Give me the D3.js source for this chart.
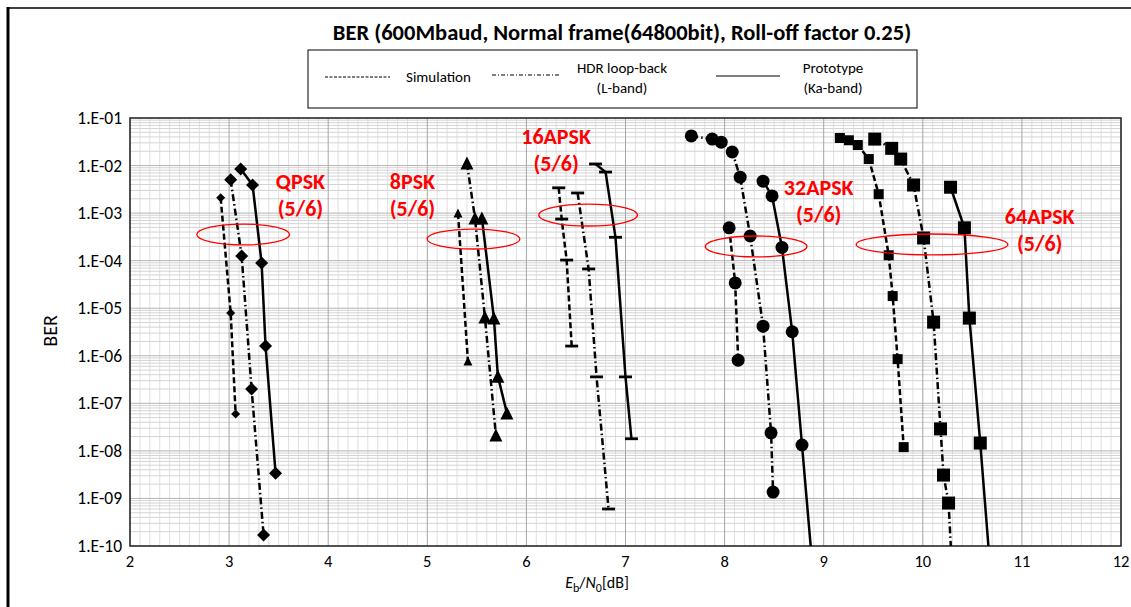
<!DOCTYPE html>
<html>
<head>
<meta charset="utf-8">
<script src="https://cdn.jsdelivr.net/npm/d3@7"></script>
<style>
  html, body { margin: 0; padding: 0; background: #fff; }
  svg { display: block; font-family: Carlito, Lato, sans-serif; }
</style>
</head>
<body>
<svg id="chart" width="1131" height="607"></svg>
<script>
'use strict';

const xTicks = [2, 3, 4, 5, 6, 7, 8, 9, 10, 11, 12];
const yTicks = [1e-1, 1e-2, 1e-3, 1e-4, 1e-5, 1e-6, 1e-7, 1e-8, 1e-9, 1e-10];
const yTickLabels = ['1.E-01', '1.E-02', '1.E-03', '1.E-04', '1.E-05', '1.E-06', '1.E-07', '1.E-08', '1.E-09', '1.E-10'];

const legendNames = [['Simulation'], ['HDR loop-back', '(L-band)'], ['Prototype', '(Ka-band)']];
const modNames = ['QPSK', '8PSK', '16APSK', '32APSK', '64APSK'];

// [Eb/N0 dB, BER]
const qpskSim = [[2.915, 2.1e-3], [3.016, 7.9e-6], [3.066, 6.0e-8]];
const qpskHdr = [[3.016, 5.0e-3], [3.127, 1.25e-4], [3.227, 2.0e-7], [3.348, 1.7e-10]];
const qpskProto = [[3.117, 8.5e-3], [3.237, 3.9e-3], [3.328, 8.9e-5], [3.368, 1.6e-6], [3.469, 3.4e-9]];

const psk8Sim = [[5.31, 1.0e-3], [5.41, 7.8e-7]];
const psk8Hdr = [[5.40, 1.13e-2], [5.481, 7.9e-4], [5.581, 6.5e-6], [5.692, 2.15e-8]];
const psk8Proto = [[5.551, 7.9e-4], [5.672, 6.2e-6], [5.712, 3.7e-7], [5.803, 6.3e-8]];

const apsk16Sim = [[6.326, 3.4e-3], [6.356, 7.5e-4], [6.406, 1.03e-4], [6.457, 1.6e-6]];
const apsk16Hdr = [[6.517, 2.65e-3], [6.628, 6.7e-5], [6.708, 3.6e-7], [6.829, 6.0e-10]];
const apsk16Proto = [[6.698, 1.08e-2], [6.799, 7.3e-3], [6.899, 3.1e-4], [7.0, 3.6e-7], [7.06, 1.8e-8]];

const apsk32Sim = [[8.046, 4.9e-4], [8.107, 3.4e-5], [8.137, 8.1e-7]];
const apsk32Hdr = [[7.664, 4.2e-2], [7.875, 3.6e-2], [7.966, 3.1e-2], [8.077, 1.93e-2], [8.157, 5.7e-3],
  [8.258, 3.3e-4], [8.388, 4.2e-6], [8.469, 2.4e-8], [8.489, 1.36e-9]];
const apsk32Proto = [[8.388, 4.7e-3], [8.479, 2.3e-3], [8.579, 1.9e-4], [8.682, 3.2e-6], [8.781, 1.33e-8], [8.91, 1e-11]];

const apsk64Sim = [[9.163, 3.8e-2], [9.254, 3.4e-2], [9.344, 2.7e-2], [9.455, 1.37e-2], [9.555, 2.5e-3],
  [9.656, 1.3e-4], [9.696, 1.8e-5], [9.746, 8.5e-7], [9.807, 1.2e-8]];
const apsk64Hdr = [[9.515, 3.6e-2], [9.686, 2.3e-2], [9.777, 1.37e-2], [9.907, 3.9e-3], [10.008, 3.0e-4],
  [10.109, 5.1e-6], [10.179, 2.9e-8], [10.209, 3.1e-9], [10.26, 8.0e-10], [10.29, 5e-11]];
const apsk64Proto = [[10.28, 3.5e-3], [10.42, 4.9e-4], [10.47, 6.2e-6], [10.58, 1.46e-8], [10.70, 1e-11]];

// annotation anchors in data units: label centre, ellipse centre + half widths (dB, decades)
const labelAnchors = [[3.72, 4.7e-3], [4.85, 4.7e-3], [6.30, 4.2e-2], [8.95, 3.5e-3], [11.18, 8.7e-4]];
const ellipseAnchors = [[3.142, 3.55e-4, 0.468, 0.22], [5.466, 2.85e-4, 0.468, 0.21], [6.623, 9.1e-4, 0.498, 0.23],
  [8.318, 1.99e-4, 0.513, 0.22], [10.093, 2.19e-4, 0.765, 0.22]];

const series = [
  { data: qpskSim, kind: 0, shape: 'diamond', size: 9 },
  { data: qpskHdr, kind: 1, shape: 'diamond', size: 13 },
  { data: qpskProto, kind: 2, shape: 'diamond', size: 13 },
  { data: psk8Sim, kind: 0, shape: 'triangle', size: 9 },
  { data: psk8Hdr, kind: 1, shape: 'triangle', size: 13 },
  { data: psk8Proto, kind: 2, shape: 'triangle', size: 13 },
  { data: apsk16Sim, kind: 0, shape: 'dash', size: 13 },
  { data: apsk16Hdr, kind: 1, shape: 'dash', size: 13 },
  { data: apsk16Proto, kind: 2, shape: 'dash', size: 13 },
  { data: apsk32Sim, kind: 0, shape: 'circle', size: 13 },
  { data: apsk32Hdr, kind: 1, shape: 'circle', size: 13 },
  { data: apsk32Proto, kind: 2, shape: 'circle', size: 13 },
  { data: apsk64Sim, kind: 0, shape: 'square', size: 10 },
  { data: apsk64Hdr, kind: 1, shape: 'square', size: 13 },
  { data: apsk64Proto, kind: 2, shape: 'square', size: 13 },
];

const dashes = ['6,3', '7,3,1.5,3', null];

const plot = { left: 130, right: 1121, top: 118, bottom: 546 };

const svg = d3.select('#chart');
const x = d3.scaleLinear().domain([2, 12]).range([plot.left, plot.right]);
const y = d3.scaleLog().domain([1e-1, 1e-10]).range([plot.top, plot.bottom]);

function markerPath(shape, s) {
  const h = s / 2;
  switch (shape) {
    case 'diamond': return `M0,${-h}L${h},0L0,${h}L${-h},0Z`;
    case 'triangle': return `M0,${-h}L${h},${h}L${-h},${h}Z`;
    case 'dash': return `M${-h},-1.4H${h}V1.4H${-h}Z`;
    case 'circle': return d3.symbol(d3.symbolCircle, Math.PI * h * h)();
    case 'square': return `M${-h},${-h}H${h}V${h}H${-h}Z`;
  }
}

// outer chart frame (only left and top edges are visible)
svg.append('line').attr('x1', 8).attr('x2', 1131).attr('y1', 8).attr('y2', 8)
  .attr('stroke', '#404040').attr('stroke-width', 2);
svg.append('line').attr('x1', 8).attr('x2', 8).attr('y1', 7).attr('y2', 607)
  .attr('stroke', '#000').attr('stroke-width', 3);

// title
svg.append('text')
  .attr('x', 622).attr('y', 40)
  .attr('text-anchor', 'middle')
  .attr('font-size', 22.5).attr('font-weight', 'bold')
  .text('BER (600Mbaud, Normal frame(64800bit), Roll-off factor 0.25)');

// legend
const legend = svg.append('g');
legend.append('rect').attr('x', 308).attr('y', 50).attr('width', 609).attr('height', 58)
  .attr('fill', '#fff').attr('stroke', '#000').attr('stroke-width', 1);
const legendSample = [[325, 390, 77], [492, 560, 75], [716, 780, 76]];
const legendDash = ['3,1.5', '4,2,1,2', null];
const legendText = [[406, 'start'], [622, 'middle'], [833, 'middle']];
legendNames.forEach((lines, i) => {
  legend.append('line')
    .attr('x1', legendSample[i][0]).attr('x2', legendSample[i][1])
    .attr('y1', legendSample[i][2]).attr('y2', legendSample[i][2])
    .attr('stroke', '#000').attr('stroke-width', 1.2)
    .attr('stroke-dasharray', legendDash[i]);
  lines.forEach((t, j) => {
    legend.append('text')
      .attr('x', legendText[i][0])
      .attr('y', lines.length === 1 ? 82 : 73 + j * 20)
      .attr('text-anchor', legendText[i][1])
      .attr('font-size', 15)
      .text(t);
  });
});

// grid
const grid = svg.append('g');
d3.range(2, 12.001, 0.1).forEach(v => {
  const major = Math.abs(v - Math.round(v)) < 1e-6;
  if (major) return;
  grid.append('line').attr('x1', x(v)).attr('x2', x(v)).attr('y1', plot.top).attr('y2', plot.bottom)
    .attr('stroke', '#e0e0e0').attr('stroke-width', 1);
});
for (let e = -10; e < -1; e++) {
  for (let m = 2; m <= 9; m++) {
    const v = m * Math.pow(10, e);
    grid.append('line').attr('x1', plot.left).attr('x2', plot.right).attr('y1', y(v)).attr('y2', y(v))
      .attr('stroke', '#d4d4d4').attr('stroke-width', 1);
  }
}
xTicks.forEach(v => {
  grid.append('line').attr('x1', x(v)).attr('x2', x(v)).attr('y1', plot.top).attr('y2', plot.bottom)
    .attr('stroke', '#a6a6a6').attr('stroke-width', 1);
});
yTicks.forEach(v => {
  grid.append('line').attr('x1', plot.left).attr('x2', plot.right).attr('y1', y(v)).attr('y2', y(v))
    .attr('stroke', '#b4b4b4').attr('stroke-width', 1);
});
svg.append('rect')
  .attr('x', plot.left).attr('y', plot.top)
  .attr('width', plot.right - plot.left).attr('height', plot.bottom - plot.top)
  .attr('fill', 'none').attr('stroke', '#262626').attr('stroke-width', 1.5);

// axis labels
svg.append('g').selectAll('text').data(yTicks).join('text')
  .attr('x', 122).attr('y', d => y(d) + 6)
  .attr('text-anchor', 'end').attr('font-size', 17.5)
  .text((d, i) => yTickLabels[i]);
svg.append('g').selectAll('text').data(xTicks).join('text')
  .attr('x', d => x(d)).attr('y', 567)
  .attr('text-anchor', 'middle').attr('font-size', 16.5)
  .text(d => d);

svg.append('text')
  .attr('transform', 'translate(57,331) rotate(-90)')
  .attr('text-anchor', 'middle').attr('font-size', 20)
  .text('BER');

const xTitle = svg.append('text')
  .attr('x', 597).attr('y', 588)
  .attr('text-anchor', 'middle').attr('font-size', 16);
xTitle.append('tspan').attr('font-style', 'italic').text('E');
xTitle.append('tspan').attr('font-size', 12).attr('dy', 4).text('b');
xTitle.append('tspan').attr('dy', -4).text('/');
xTitle.append('tspan').attr('font-style', 'italic').text('N');
xTitle.append('tspan').attr('font-size', 12).attr('dy', 4).text('0');
xTitle.append('tspan').attr('dy', -4).text('[dB]');

// curves
svg.append('clipPath').attr('id', 'plot-clip').append('rect')
  .attr('x', plot.left).attr('y', plot.top)
  .attr('width', plot.right - plot.left).attr('height', plot.bottom - plot.top);

const line = d3.line().x(d => x(d[0])).y(d => y(d[1]));
const curves = svg.append('g').attr('clip-path', 'url(#plot-clip)');
series.forEach(s => {
  curves.append('path')
    .attr('d', line(s.data))
    .attr('fill', 'none').attr('stroke', '#000')
    .attr('stroke-width', 2.5)
    .attr('stroke-dasharray', dashes[s.kind]);
});
series.forEach(s => {
  svg.append('g').selectAll('path')
    .data(s.data.filter(d => d[1] >= 1e-10))
    .join('path')
    .attr('transform', d => `translate(${x(d[0])},${y(d[1])})`)
    .attr('d', markerPath(s.shape, s.size))
    .attr('fill', '#000');
});

// red annotations
const notes = svg.append('g');
ellipseAnchors.forEach(e => {
  const cx = x(e[0]);
  const cy = y(e[1]);
  notes.append('ellipse')
    .attr('cx', cx).attr('cy', cy)
    .attr('rx', x(e[0] + e[2]) - cx)
    .attr('ry', y(e[1] / Math.pow(10, e[3])) - cy)
    .attr('fill', 'none').attr('stroke', '#ff0000').attr('stroke-width', 1.3);
});
modNames.forEach((name, i) => {
  const cx = x(labelAnchors[i][0]);
  const cy = y(labelAnchors[i][1]);
  [name, '(5/6)'].forEach((t, j) => {
    notes.append('text')
      .attr('x', cx).attr('y', cy + 8 + j * 27)
      .attr('text-anchor', 'middle')
      .attr('font-size', 22).attr('font-weight', 'bold')
      .attr('fill', '#ff0000')
      .text(t);
  });
});
</script>
</body>
</html>
